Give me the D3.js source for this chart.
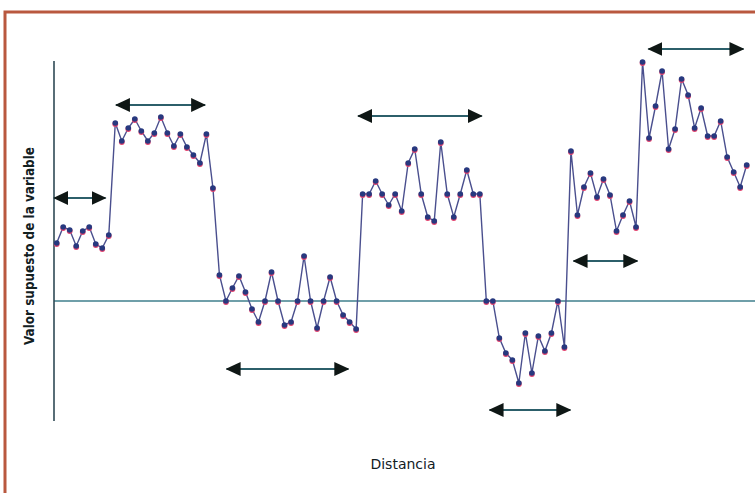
<!DOCTYPE html>
<html>
<head>
<meta charset="utf-8">
<script src="https://cdn.jsdelivr.net/npm/d3@7"></script>
<style>
  html, body { margin: 0; padding: 0; background: #ffffff; }
  svg { display: block; }
</style>
</head>
<body>
<svg id="chart" width="755" height="493"></svg>
<script>
// ---- data ----
const values = [
  5.8, 7.4, 7.1, 5.5, 7.0, 7.4, 5.7, 5.3, 6.6,
  17.8, 16.0, 17.3, 18.2, 17.0, 16.0, 16.8, 18.4, 16.8, 15.5, 16.7, 15.4, 14.6, 13.8, 16.7,
  11.3, 2.6,
  0, 1.3, 2.5, 0.9, -0.8, -2.1, 0, 2.9, 0, -2.4, -2.1, 0, 4.5, 0, -2.7, 0, 2.4, 0, -1.4, -2.1, -2.8,
  10.7, 10.7, 12.0, 10.7, 9.6, 10.7, 9.0, 13.8, 15.2, 10.7, 8.4, 8.0, 15.9, 10.7, 8.4, 10.7, 13.1, 10.7, 10.7,
  0, 0,
  -3.7, -5.2, -5.9, -8.2, -3.2, -7.2, -3.5, -5.0, -3.2, 0, -4.6,
  15.0, 8.6, 11.4, 12.8, 10.4, 12.2, 10.6, 7.0, 8.6, 10.0, 7.4,
  23.9, 16.3, 19.5, 23.0, 15.2, 17.2, 22.2, 20.6, 17.3, 19.3, 16.5, 16.5, 18.0, 14.4, 12.9, 11.4, 13.6
];
const positions = values.map((v, i) => i);

// double-headed arrows: [start position, end position, level]
const arrowStart = [-0.4, 9.1, 26.1, 46.3, 66.5, 79.4, 90.9];
const arrowEnd   = [7.5, 22.8, 44.8, 65.3, 78.9, 89.2, 105.5];
const arrowLevel = [10.3, 19.6, -6.8, 18.5, -10.9, 4.0, 25.2];

const xTitle = "Distancia";
const yTitle = "Valor supuesto de la variable";

// ---- drawing ----
const svg = d3.select("#chart");

const x = d3.scaleLinear().domain([0, 106]).range([56.7, 746.7]);
const y = d3.scaleLinear().domain([-12, 24]).range([421, 61]);

// frame
svg.append("rect")
  .attr("x", 5).attr("y", 12)
  .attr("width", 800).attr("height", 520)
  .attr("fill", "none")
  .attr("stroke", "#b9583f")
  .attr("stroke-width", 3);

// zero baseline
svg.append("line")
  .attr("x1", 54).attr("x2", 755)
  .attr("y1", y(0)).attr("y2", y(0))
  .attr("stroke", "#3f7f8c")
  .attr("stroke-width", 1.3);

// y axis line
svg.append("line")
  .attr("x1", 54).attr("x2", 54)
  .attr("y1", y(24)).attr("y2", y(-12))
  .attr("stroke", "#2f4a55")
  .attr("stroke-width", 1.6);

// arrow markers
const defs = svg.append("defs");
defs.append("marker")
  .attr("id", "head")
  .attr("viewBox", "0 0 15 14")
  .attr("refX", 14).attr("refY", 7)
  .attr("markerWidth", 15).attr("markerHeight", 14)
  .attr("markerUnits", "userSpaceOnUse")
  .attr("orient", "auto-start-reverse")
  .append("path")
  .attr("d", "M0,0 L15,7 L0,14 Z")
  .attr("fill", "#0f1715");

const arrows = arrowStart.map((s, i) => ({ s, e: arrowEnd[i], v: arrowLevel[i] }));
svg.append("g").selectAll("line")
  .data(arrows)
  .join("line")
  .attr("x1", d => x(d.s)).attr("x2", d => x(d.e))
  .attr("y1", d => y(d.v)).attr("y2", d => y(d.v))
  .attr("stroke", "#2c5f6a")
  .attr("stroke-width", 2.2)
  .attr("marker-start", "url(#head)")
  .attr("marker-end", "url(#head)");

// series line
const pts = positions.map((p, i) => ({ p, v: values[i] }));
svg.append("path")
  .datum(pts)
  .attr("fill", "none")
  .attr("stroke", "#4a4f8e")
  .attr("stroke-width", 1.4)
  .attr("d", d3.line().x(d => x(d.p)).y(d => y(d.v)));

// markers (pink underside, navy top)
svg.append("g").selectAll("circle")
  .data(pts)
  .join("circle")
  .attr("cx", d => x(d.p))
  .attr("cy", d => y(d.v) + 1)
  .attr("r", 2.9)
  .attr("fill", "#e2446f");
svg.append("g").selectAll("circle")
  .data(pts)
  .join("circle")
  .attr("cx", d => x(d.p))
  .attr("cy", d => y(d.v))
  .attr("r", 2.8)
  .attr("fill", "#27397f");

// titles
svg.append("text")
  .attr("x", 403).attr("y", 469)
  .attr("text-anchor", "middle")
  .attr("font-family", "'Comic Sans MS', 'DejaVu Sans', sans-serif")
  .attr("font-size", 14)
  .attr("font-weight", 500)
  .attr("fill", "#12201f")
  .text(xTitle);

svg.append("text")
  .attr("transform", "translate(34,246) rotate(-90)")
  .attr("text-anchor", "middle")
  .attr("font-family", "'DejaVu Sans Condensed', 'DejaVu Sans', sans-serif")
  .attr("font-weight", "bold")
  .attr("font-size", 14)
  .attr("textLength", 198)
  .attr("lengthAdjust", "spacingAndGlyphs")
  .attr("fill", "#12201f")
  .text(yTitle);
</script>
</body>
</html>
